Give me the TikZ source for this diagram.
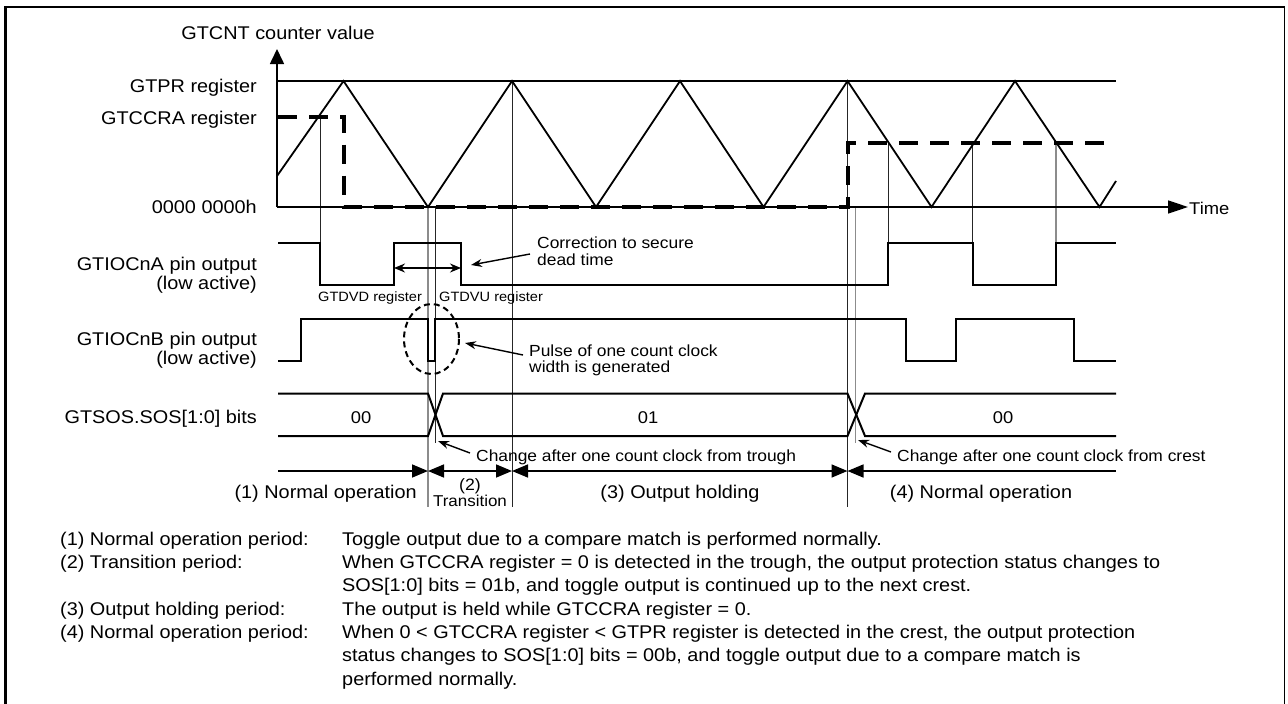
\documentclass[tikz,border=0pt]{standalone}
\usepackage{fontspec}
\setmainfont{Liberation Sans}[FakeStretch=1.08]
\usetikzlibrary{arrows.meta}
\newcommand{\fsz}[1]{\fontsize{#1}{#1}\selectfont}
\begin{document}
\begin{tikzpicture}[x=1pt,y=-1pt,
  lbl/.style={inner sep=0pt, font=\fsz{18.4}},
  val/.style={inner sep=0pt, font=\fsz{17}},
  ann/.style={inner sep=0pt, font=\fsz{16.1}},
  sml/.style={inner sep=0pt, font=\fsz{13.5}},
  chg/.style={inner sep=0pt, font=\fsz{16.1}},
  per/.style={inner sep=0pt, font=\fsz{18.4}},
  desc/.style={inner sep=0pt, font=\fsz{18.4}},
  sig/.style={line width=2pt, line join=miter},
  tri/.style={line width=1.8pt, line join=miter},
  cmpd/.style={line width=4pt, dash pattern=on 19pt off 12pt},
  guide/.style={line width=0.9pt, black!85},
  guideg/.style={line width=1.6pt, black!45},
  axis/.style={line width=1.6pt},
  pertip/.style={line width=1.6pt},
  ptr/.style={line width=1.4pt, -{Stealth[length=11pt,width=8pt]}},
]
\useasboundingbox (0,0) rectangle (1288,704);
% frame
\draw[line width=2.6pt] (5.5,704) -- (5.5,7) -- (1284.5,7);
\draw[line width=1.2pt] (1284.5,7) -- (1284.5,704);

% guide lines
\draw[guide] (320,117) -- (320,243);
\draw[guideg] (428,207) -- (428,507);
\draw[guide] (435,207) -- (435,443);
\draw[guide] (512,81) -- (512,507);
\draw[guide] (847.5,81) -- (847.5,507);
\draw[guideg] (855.5,207) -- (855.5,443);
\draw[guide] (888,143) -- (888,243);
\draw[guide] (972.5,143) -- (972.5,243);
\draw[guideg] (1056,143) -- (1056,243);

% axes
\coordinate (o) at (277,207);
\coordinate (ytop) at (277,49);
\coordinate (xend) at (1188,207);
\draw[axis, -{Triangle[length=15pt,width=14pt]}] (o) -- (ytop);
\draw[axis, -{Triangle[length=20pt,width=13pt]}] (o) -- (xend);
\draw[line width=1.6pt] (277,81) -- (1116,81);

% GTCCRA dashed
\draw[cmpd] (278,117) -- (343.5,117) -- (343.5,207) -- (847.5,207) -- (847.5,143) -- (1114,143);

% triangle counter
\draw[tri] (277,176) -- (343.5,81) -- (428,207) -- (512,81) -- (596,207) -- (680,81)
  -- (763.5,207) -- (847.5,81) -- (931.5,207) -- (1015,81) -- (1099.5,207) -- (1116,181);

% GTIOCnA
\draw[sig] (278,243) -- (320,243) -- (320,285) -- (394,285) -- (394,243) -- (461,243)
  -- (461,285) -- (888,285) -- (888,243) -- (972.5,243) -- (972.5,285) -- (1056,285)
  -- (1056,243) -- (1116,243);
% GTIOCnB
\draw[sig] (278,361) -- (301,361) -- (301,319) -- (428,319) -- (428,361) -- (435,361)
  -- (435,319) -- (906,319) -- (906,361) -- (956,361) -- (956,319) -- (1074,319)
  -- (1074,361) -- (1116,361);
% GTSOS bus
\draw[sig] (278,393.5) -- (428,393.5) -- (443,436) -- (847.5,436) -- (865,393.5) -- (1116,393.5);
\draw[sig] (278,436) -- (428,436) -- (443,393.5) -- (847.5,393.5) -- (865,436) -- (1116,436);

% dead time arrow
\coordinate (dtl) at (394,268);
\coordinate (dtr) at (461,268);
\draw[line width=1.4pt, {Stealth[length=11pt,width=9pt]}-{Stealth[length=11pt,width=9pt]}] (dtl) -- (dtr);

% dashed circle
\draw[line width=2pt, dash pattern=on 6pt off 4pt] (431.5,339) ellipse [x radius=27.5, y radius=35];

% period arrows
\coordinate (p0) at (278,471);
\coordinate (p1) at (428,471);
\coordinate (p2) at (512,471);
\coordinate (p3) at (847.5,471);
\coordinate (p4) at (1116,471);
\draw[pertip, -{Triangle[length=16pt,width=13pt]}] (p0) -- (p1);
\draw[pertip, {Triangle[length=16pt,width=13pt]}-{Triangle[length=16pt,width=13pt]}] (p1) -- (p2);
\draw[pertip, {Triangle[length=16pt,width=13pt]}-{Triangle[length=16pt,width=13pt]}] (p2) -- (p3);
\draw[pertip, {Triangle[length=16pt,width=13pt]}-] (p3) -- (p4);

% left labels
\node[lbl, anchor=base] (lcnt) at (278,39.3) {GTCNT counter value};
\node[lbl, anchor=base east] (lpr) at (257,92.7) {GTPR register};
\node[lbl, anchor=base east] (lccra) at (257,124) {GTCCRA register};
\node[lbl, anchor=base east] (lzero) at (257,213.3) {0000 0000h};
\node[val, anchor=base west] (ltime) at (1189,214) {Time};
\node[lbl, anchor=base east] (la1) at (257,270) {GTIOCnA pin output};
\node[lbl, anchor=base east] (la2) at (257,289) {(low active)};
\node[lbl, anchor=base east] (lb1) at (257,345) {GTIOCnB pin output};
\node[lbl, anchor=base east] (lb2) at (257,364) {(low active)};
\node[lbl, anchor=base east] (lsos) at (257,423.3) {GTSOS.SOS[1:0] bits};
\node[val, anchor=base] (v00a) at (361,423.3) {00};
\node[val, anchor=base] (v01) at (648,423.3) {01};
\node[val, anchor=base] (v00b) at (1003,423.3) {00};

% small labels
\node[sml, anchor=base west] (dvd) at (318,301.7) {GTDVD register};
\node[sml, anchor=base west] (dvu) at (439,301.7) {GTDVU register};

% annotations
\node[ann, anchor=base west] (cor1) at (537,248.3) {Correction to secure};
\node[ann, anchor=base west] (cor2) at (537,265) {dead time};
\coordinate (cor) at (530,254);
\coordinate (cort) at (471,265);
\draw[ptr] (cor) -- (cort);
\node[ann, anchor=base west] (pul1) at (529,356) {Pulse of one count clock};
\node[ann, anchor=base west] (pul2) at (529,372) {width is generated};
\coordinate (pul) at (523,355);
\coordinate (pult) at (465,343);
\draw[ptr] (pul) -- (pult);
\node[chg, anchor=base west] (chg1) at (476,461.2) {Change after one count clock from trough};
\coordinate (c1) at (470,453);
\coordinate (c1t) at (438,441);
\draw[ptr] (c1) -- (c1t);
\node[chg, anchor=base west] (chg2) at (897,461.2) {Change after one count clock from crest};
\coordinate (c2) at (891,452);
\coordinate (c2t) at (858,440);
\draw[ptr] (c2) -- (c2t);

% period labels
\node[per, anchor=base east] (n1) at (417,498.3) {(1) Normal operation};
\node[per, anchor=base, font=\fsz{16.4}] (n2a) at (470,490.7) {(2)};
\node[per, anchor=base, font=\fsz{15.7}] (n2b) at (470,506.7) {Transition};
\node[per, anchor=base] (n3) at (680,498.3) {(3) Output holding};
\node[per, anchor=base] (n4) at (981,498.3) {(4) Normal operation};

% description
\node[desc, anchor=base west] (d1) at (60,545) {(1) Normal operation period:};
\node[desc, anchor=base west] (d2) at (60,568.3) {(2) Transition period:};
\node[desc, anchor=base west] (d3) at (60,615) {(3) Output holding period:};
\node[desc, anchor=base west] (d4) at (60,638.3) {(4) Normal operation period:};
\node[desc, anchor=base west] (e1) at (342,545) {Toggle output due to a compare match is performed normally.};
\node[desc, anchor=base west] (e2) at (342,568.3) {When GTCCRA register = 0 is detected in the trough, the output protection status changes to};
\node[desc, anchor=base west] (e3) at (342,591.7) {SOS[1:0] bits = 01b, and toggle output is continued up to the next crest.};
\node[desc, anchor=base west] (e4) at (342,615) {The output is held while GTCCRA register = 0.};
\node[desc, anchor=base west] (e5) at (342,638.3) {When 0 < GTCCRA register < GTPR register is detected in the crest, the output protection};
\node[desc, anchor=base west] (e6) at (342,661.7) {status changes to SOS[1:0] bits = 00b, and toggle output due to a compare match is};
\node[desc, anchor=base west] (e7) at (342,685) {performed normally.};
\end{tikzpicture}
\end{document}
